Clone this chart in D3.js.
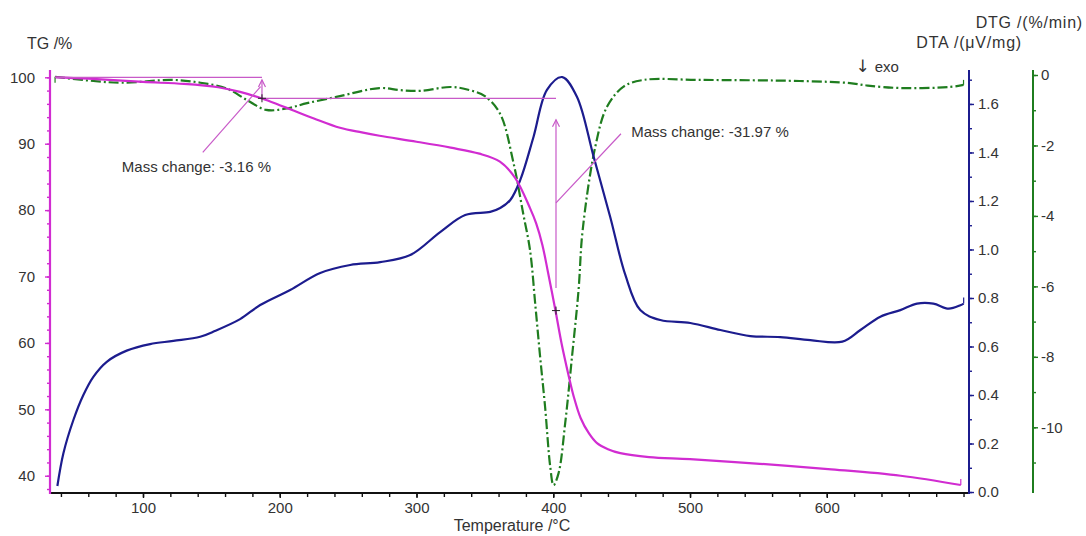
<!DOCTYPE html>
<html>
<head>
<meta charset="utf-8">
<script src="https://cdn.jsdelivr.net/npm/d3@7/dist/d3.min.js"></script>
<style>
  html, body { margin: 0; padding: 0; background: #fff; }
  svg { display: block; font-family: "Liberation Sans", Arial, sans-serif; }
  .lbl { fill: #333; font-size: 15px; }
</style>
</head>
<body>
<svg id="chart" width="1086" height="536"></svg>
<script>
// Thermal analysis run: TG, DTA and DTG against temperature
const tgTemp  = [35.7, 60, 100, 130, 155, 171, 187, 200, 210, 225, 244, 260, 273, 300, 325, 346, 361, 372, 383, 387.5, 392, 396, 401.5, 406, 411, 415, 420, 426, 432, 440, 449, 470, 500, 551, 601, 654, 698];
const tgValue = [100, 99.8, 99.3, 99.0, 98.5, 97.8, 96.8, 95.8, 95.0, 93.8, 92.4, 91.7, 91.2, 90.3, 89.4, 88.5, 87.3, 84.9, 80.3, 78.0, 74.8, 70.8, 65.0, 60.0, 55.3, 51.9, 48.7, 46.4, 44.9, 44.0, 43.4, 42.8, 42.5, 41.8, 41.0, 40.0, 38.6];

const dtaTemp  = [37.4, 41.8, 49.1, 56.4, 63.7, 73.5, 88.1, 105.2, 122.2, 141.8, 151.3, 171, 185.7, 207.6, 229.6, 251.5, 273.4, 295.4, 317.3, 335.6, 353.9, 361.2, 368.6, 375.9, 385.6, 395.4, 406.6, 417.3, 429.5, 441.6, 452.7, 463.6, 478.3, 500.2, 522.2, 544.1, 566, 588, 611.4, 624.6, 639.2, 653.8, 666, 677.9, 689.1, 697.7, 700.1];
const dtaValue = [0.025, 0.16, 0.297, 0.40, 0.475, 0.537, 0.583, 0.61, 0.623, 0.64, 0.661, 0.713, 0.771, 0.833, 0.903, 0.936, 0.948, 0.977, 1.072, 1.142, 1.155, 1.171, 1.204, 1.287, 1.465, 1.658, 1.711, 1.63, 1.383, 1.135, 0.895, 0.75, 0.709, 0.697, 0.668, 0.643, 0.639, 0.626, 0.62, 0.668, 0.723, 0.75, 0.777, 0.777, 0.756, 0.77, 0.777];

const dtgTemp  = [35.7, 61, 85, 122, 142, 161, 176, 190, 205, 220, 244, 273, 288, 303, 325, 339, 350, 361, 371, 378, 383, 387, 390.4, 394, 397.8, 400.2, 403.9, 408.7, 413.7, 418.5, 421.5, 430.7, 439.3, 451.4, 466, 507, 580, 617, 630, 654, 690, 700];
const dtgValue = [-0.05, -0.16, -0.22, -0.14, -0.22, -0.38, -0.71, -0.99, -0.95, -0.8, -0.6, -0.37, -0.43, -0.45, -0.34, -0.43, -0.6, -1.09, -2.51, -3.93, -4.97, -6.58, -8.0, -9.41, -11.12, -11.64, -11.3, -9.89, -8.0, -6.1, -4.4, -2.04, -0.9, -0.33, -0.14, -0.14, -0.17, -0.23, -0.3, -0.37, -0.34, -0.28];

// Axis ticks
const tempTicks = [100, 200, 300, 400, 500, 600];
const tgTicks   = [40, 50, 60, 70, 80, 90, 100];
const dtaTicks  = [0.0, 0.2, 0.4, 0.6, 0.8, 1.0, 1.2, 1.4, 1.6];
const dtgTicks  = [0, -2, -4, -6, -8, -10];

// Mass-change steps read by the instrument software
const stepStart  = [35.7, 187];
const stepEnd    = [187, 402];
const stepLevel  = [100, 96.84];
const stepChange = [-3.16, -31.97];

const colTG = "#d12cd1", colDTA = "#1c1c8e", colDTG = "#1f7d1f", colNote = "#c85ac8";

const svg = d3.select("#chart");
const padL = 50, padR = 969, padT = 70, padB = 493, dtgX = 1033;

const x    = d3.scaleLinear().domain([32, 704]).range([padL, padR]);
const yTG  = d3.scaleLinear().domain([37.4, 101.1]).range([padB, padT]);
const yDTA = d3.scaleLinear().domain([-0.004, 1.74]).range([padB, padT]);
const yDTG = d3.scaleLinear().domain([-11.865, 0.142]).range([padB, padT]);

// Plain hyphen for negative numbers
const hyph = f => v => f(v).replace("\u2212", "-");

function styleAxis(g, color) {
  g.select(".domain").remove();
  g.selectAll(".tick line").attr("stroke", color).attr("stroke-width", 1.4);
  g.selectAll(".tick text").attr("class", "lbl").attr("fill", "#333")
    .style("font-size", "15px").style("font-family", "Liberation Sans, Arial, sans-serif");
}

// Temperature axis
const xg = svg.append("g").attr("transform", `translate(0,${padB})`);
xg.call(d3.axisBottom(x).tickValues(d3.range(40, 701, 20)).tickSize(4).tickFormat(""));
styleAxis(xg, "#111");
const xg2 = svg.append("g").attr("transform", `translate(0,${padB})`);
xg2.call(d3.axisBottom(x).tickValues(tempTicks).tickSize(5).tickPadding(4).tickFormat(d3.format("d")));
styleAxis(xg2, "#111");
svg.append("line").attr("x1", padL).attr("x2", padR).attr("y1", padB).attr("y2", padB)
  .attr("stroke", "#111").attr("stroke-width", 2);

// TG axis
const tg1 = svg.append("g").attr("transform", `translate(${padL},0)`);
tg1.call(d3.axisLeft(yTG).tickValues(d3.range(38, 101, 2)).tickSize(3).tickFormat(""));
styleAxis(tg1, colTG);
const tg2 = svg.append("g").attr("transform", `translate(${padL},0)`);
tg2.call(d3.axisLeft(yTG).tickValues(tgTicks).tickSize(5).tickPadding(10).tickFormat(d3.format("d")));
styleAxis(tg2, colTG);
svg.append("line").attr("x1", padL).attr("x2", padL).attr("y1", padT).attr("y2", padB + 1)
  .attr("stroke", colTG).attr("stroke-width", 2.2);

// DTA axis
const da1 = svg.append("g").attr("transform", `translate(${padR},0)`);
da1.call(d3.axisRight(yDTA).tickValues(d3.range(0, 18).map(i => i / 10)).tickSize(3).tickFormat(""));
styleAxis(da1, colDTA);
const da2 = svg.append("g").attr("transform", `translate(${padR},0)`);
da2.call(d3.axisRight(yDTA).tickValues(dtaTicks).tickSize(5).tickPadding(4).tickFormat(d3.format(".1f")));
styleAxis(da2, colDTA);
svg.append("line").attr("x1", padR).attr("x2", padR).attr("y1", padT).attr("y2", padB + 1)
  .attr("stroke", colDTA).attr("stroke-width", 2);

// DTG axis
const dg1 = svg.append("g").attr("transform", `translate(${dtgX},0)`);
dg1.call(d3.axisRight(yDTG).tickValues(d3.range(-11, 1, 1)).tickSize(3).tickFormat(""));
styleAxis(dg1, colDTG);
const dg2 = svg.append("g").attr("transform", `translate(${dtgX},0)`);
dg2.call(d3.axisRight(yDTG).tickValues(dtgTicks).tickSize(5).tickPadding(3).tickFormat(hyph(d3.format("d"))));
styleAxis(dg2, colDTG);
svg.append("line").attr("x1", dtgX).attr("x2", dtgX).attr("y1", padT).attr("y2", padB)
  .attr("stroke", colDTG).attr("stroke-width", 2);

// Axis titles
svg.append("text").attr("class", "lbl").attr("x", 27).attr("y", 49).style("font-size", "16px").text("TG /%");
svg.append("text").attr("class", "lbl").attr("x", 1083).attr("y", 28).attr("text-anchor", "end")
  .style("font-size", "16px").style("letter-spacing", "0.8px").text("DTG /(%/min)");
svg.append("text").attr("class", "lbl").attr("x", 1022).attr("y", 48).attr("text-anchor", "end")
  .style("font-size", "16px").style("letter-spacing", "0.8px").text("DTA /(μV/mg)");
svg.append("text").attr("class", "lbl").attr("x", 512).attr("y", 531).attr("text-anchor", "middle")
  .style("font-size", "16px").text("Temperature /°C");
const exo = svg.append("text").attr("class", "lbl").attr("x", x(621)).attr("y", yDTG(0.26) + 6)
  .style("font-size", "15px");
exo.append("tspan").style("font-family", "DejaVu Sans, sans-serif").style("font-size", "17px").text("↓");
exo.append("tspan").attr("dx", 5).text("exo");

// Curves
const line = (xs, ys, yScale) => d3.line().curve(d3.curveCatmullRom.alpha(0.5))
  .x((d, i) => x(xs[i])).y((d, i) => yScale(ys[i]))(xs);

const plot = svg.append("g");
plot.append("path").attr("d", line(dtgTemp, dtgValue, yDTG)).attr("fill", "none")
  .attr("stroke", colDTG).attr("stroke-width", 2.2).attr("stroke-dasharray", "10,3,2,3");
plot.append("path").attr("d", line(dtaTemp, dtaValue, yDTA)).attr("fill", "none")
  .attr("stroke", colDTA).attr("stroke-width", 2.2);
plot.append("path").attr("d", line(tgTemp, tgValue, yTG)).attr("fill", "none")
  .attr("stroke", colTG).attr("stroke-width", 2.2);

// Small end hooks the software draws at each curve's end
function hook(cx, cy, color, dy) {
  plot.append("path").attr("d", `M${cx},${cy} L${cx},${cy + dy}`).attr("stroke", color)
    .attr("stroke-width", 1.2).attr("fill", "none");
}
hook(x(tgTemp[tgTemp.length - 1]), yTG(tgValue[tgValue.length - 1]), colTG, -6);
hook(x(dtaTemp[dtaTemp.length - 1]), yDTA(dtaValue[dtaValue.length - 1]), colDTA, -6);
hook(x(dtgTemp[dtgTemp.length - 1]), yDTG(dtgValue[dtgValue.length - 1]), colDTG, -5);
hook(x(dtgTemp[0]), yDTG(dtgValue[0]), colDTG, 6);

// Mass-change annotations
const defs = svg.append("defs");
defs.append("marker").attr("id", "head").attr("viewBox", "-10 -5 12 10").attr("refX", 0).attr("refY", 0)
  .attr("markerWidth", 12).attr("markerHeight", 10).attr("orient", "auto")
  .attr("markerUnits", "userSpaceOnUse")
  .append("path").attr("d", "M-7,-3.5 L0,0 L-7,3.5").attr("fill", "none").attr("stroke", colNote).attr("stroke-width", 1.2);

const notes = svg.append("g").attr("stroke", colNote).attr("stroke-width", 1.2).attr("fill", "none");
stepStart.forEach((s, i) => {
  notes.append("line").attr("x1", x(s)).attr("x2", x(stepEnd[i]))
    .attr("y1", yTG(stepLevel[i])).attr("y2", yTG(stepLevel[i]));
});
// Step 1 arrow: from the end level up towards the start level
const lvl1 = stepLevel[0] + stepChange[0];
notes.append("line").attr("x1", x(stepEnd[0])).attr("x2", x(stepEnd[0]))
  .attr("y1", yTG(lvl1)).attr("y2", yTG(99.6)).attr("marker-end", "url(#head)");
// Step 2 arrow
const lvl2 = stepLevel[1] + stepChange[1];
notes.append("line").attr("x1", x(stepEnd[1])).attr("x2", x(stepEnd[1]))
  .attr("y1", yTG(lvl2 + 3.4)).attr("y2", yTG(93.6)).attr("marker-end", "url(#head)");

// Leader lines to the labels
notes.append("line").attr("x1", x(143.7)).attr("y1", yTG(88.7)).attr("x2", x(186)).attr("y2", yTG(98.6));
notes.append("line").attr("x1", x(402)).attr("y1", yTG(81.1)).attr("x2", x(449.5)).attr("y2", yTG(91.5));

// Step markers
const cross = (cx, cy) => svg.append("path")
  .attr("d", `M${cx - 4},${cy} L${cx + 4},${cy} M${cx},${cy - 4} L${cx},${cy + 4}`)
  .attr("stroke", "#222").attr("stroke-width", 1);
cross(x(stepEnd[0]), yTG(lvl1));
cross(x(stepEnd[1]), yTG(lvl2));

const fmt = v => `Mass change: ${v.toFixed(2)} %`;
svg.append("text").attr("class", "lbl").attr("x", x(84.5)).attr("y", yTG(85.8)).text(fmt(stepChange[0]));
svg.append("text").attr("class", "lbl").attr("x", x(457)).attr("y", yTG(91.0)).text(fmt(stepChange[1]));
</script>
</body>
</html>
